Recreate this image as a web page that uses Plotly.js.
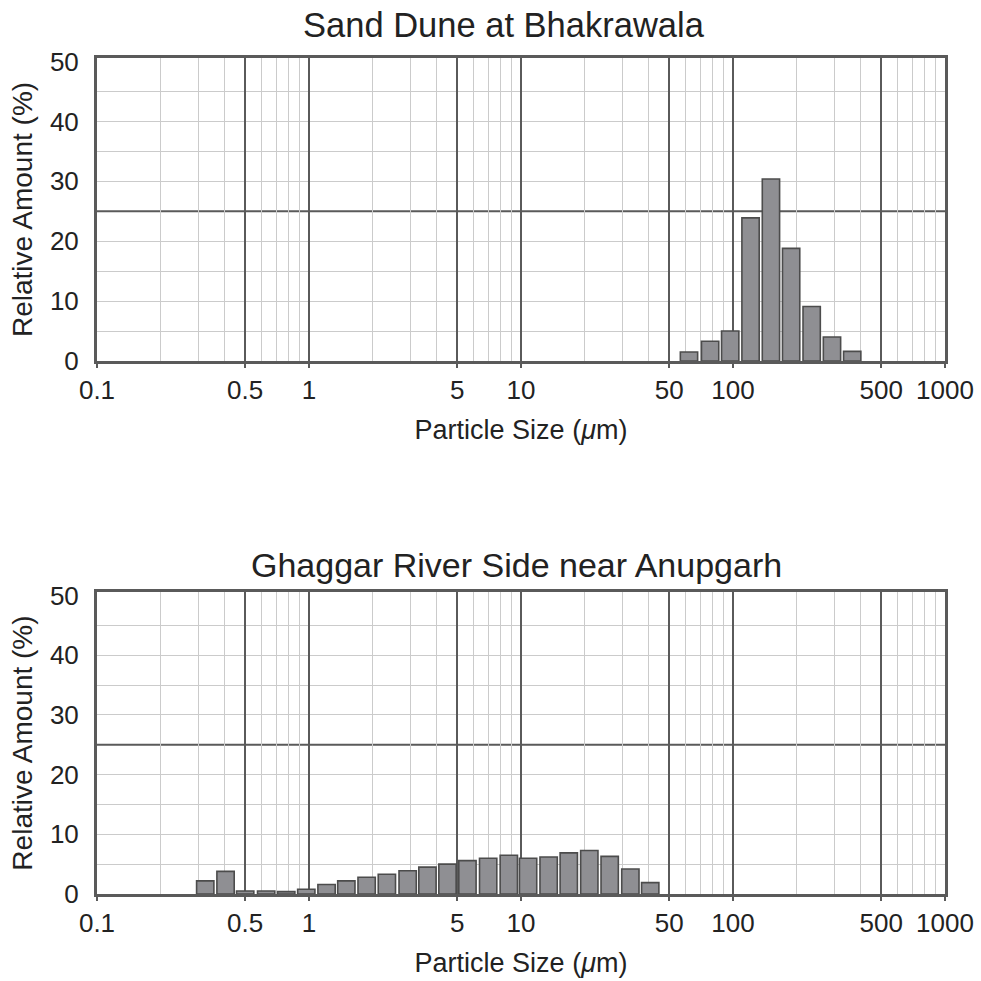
<!DOCTYPE html>
<html>
<head>
<meta charset="utf-8">
<script src="https://cdn.plot.ly/plotly-3.0.1.min.js"></script>
<style>html,body{margin:0;padding:0;background:#fff;}#chart{width:981px;height:981px;}</style>
</head>
<body>
<div id="chart"></div>
<script>
// ---- data ----
const topTitle = "Sand Dune at Bhakrawala";
const bottomTitle = "Ghaggar River Side near Anupgarh";
const topSizes = [62, 78, 97, 121, 151, 188, 235, 293, 365];
const topValues = [1.5, 3.3, 5.0, 23.9, 30.4, 18.8, 9.1, 4.0, 1.6];
const bottomSizes = [0.324, 0.404, 0.50, 0.628, 0.781, 0.971, 1.21, 1.50, 1.87, 2.33, 2.92, 3.62, 4.50, 5.59, 7.00, 8.76, 10.8, 13.5, 16.8, 21.0, 26.2, 32.8, 40.7];
const bottomValues = [2.2, 3.8, 0.5, 0.5, 0.4, 0.8, 1.6, 2.2, 2.8, 3.3, 3.9, 4.5, 5.0, 5.6, 6.0, 6.5, 6.0, 6.2, 6.9, 7.3, 6.3, 4.2, 1.9];
const xTickVals = [0.1, 0.5, 1, 5, 10, 50, 100, 500, 1000];
const xTickText = ["0.1", "0.5", "1", "5", "10", "50", "100", "500", "1000"];
const yTickVals = [0, 10, 20, 30, 40, 50];
const xTitle = "Particle Size (<i>\u03bc</i>m)";
const yTitle = "Relative Amount (%)";

// ---- style ----
const FONT = "Liberation Sans, Arial, sans-serif";
const TXT = "#222";
const HEAVY = "#5a5a5a";
const LIGHT = "#cbcbcb";
const binHalf = 1.0985; // bar half-width as a ratio on the log axis

function minorLogVals() {
  const out = [];
  for (let d = 0.1; d < 1000; d *= 10) {
    for (let m = 2; m <= 9; m++) {
      if (m === 5) continue;
      out.push(+(m * d).toPrecision(3));
    }
  }
  return out;
}
const xMinor = minorLogVals();
const yMinor = [5, 10, 15, 20, 30, 35, 40, 45];

function barTrace(sizes, values, xa, ya) {
  return {
    type: "bar",
    x: sizes,
    y: values,
    offset: sizes.map(s => s / binHalf - s),
    width: sizes.map(s => s * binHalf - s / binHalf),
    xaxis: xa, yaxis: ya,
    marker: {color: "#8f8f93", line: {color: "#4c4c4c", width: 1.6}},
    showlegend: false,
    hoverinfo: "x+y"
  };
}

function xAxis(anchor) {
  return {
    type: "log",
    range: [-1, 3],
    domain: [0, 1],
    anchor: anchor,
    tickmode: "array",
    tickvals: xTickVals,
    ticktext: xTickText,
    ticks: "outside", ticklen: 4, tickcolor: HEAVY, tickwidth: 1.5,
    tickfont: {family: FONT, size: 26, color: TXT},
    showgrid: true, gridcolor: HEAVY, gridwidth: 2,
    minor: {tickmode: "array", tickvals: xMinor, showgrid: true, gridcolor: LIGHT, gridwidth: 1, ticks: ""},
    showline: true, linecolor: HEAVY, linewidth: 3, mirror: true,
    zeroline: false,
    title: {text: xTitle, font: {family: FONT, size: 27, color: TXT}, standoff: 16},
    automargin: false
  };
}

function yAxis(anchor, dom) {
  return {
    range: [0, 50.6],
    domain: dom,
    anchor: anchor,
    tickmode: "array",
    tickvals: yTickVals,
    ticks: "outside", ticklen: 10, tickcolor: "rgba(0,0,0,0)",
    tickfont: {family: FONT, size: 26, color: TXT},
    showgrid: false,
    minor: {tickmode: "array", tickvals: yMinor, showgrid: true, gridcolor: LIGHT, gridwidth: 1, ticks: ""},
    showline: true, linecolor: HEAVY, linewidth: 3, mirror: true,
    zeroline: false,
    title: {text: yTitle, font: {family: FONT, size: 28, color: TXT}, standoff: 10},
    automargin: false
  };
}

const data = [
  barTrace(topSizes, topValues, "x", "y"),
  barTrace(bottomSizes, bottomValues, "x2", "y2")
];

const layout = {
  width: 981, height: 981,
  margin: {l: 97, r: 36, t: 58, b: 87},
  paper_bgcolor: "#fff", plot_bgcolor: "#fff",
  bargap: 0,
  xaxis: xAxis("y"),
  yaxis: yAxis("x", [0.6376, 1]),
  xaxis2: xAxis("y2"),
  yaxis2: yAxis("x2", [0, 0.3612]),
  shapes: [
    {type: "line", xref: "paper", yref: "y", x0: 0, x1: 1, y0: 25, y1: 25, line: {color: HEAVY, width: 2}, layer: "below"},
    {type: "line", xref: "paper", yref: "y2", x0: 0, x1: 1, y0: 25, y1: 25, line: {color: HEAVY, width: 2}, layer: "below"}
  ],
  annotations: [
    {text: topTitle, xref: "paper", yref: "paper", x: 0.48, y: 1.0395, yanchor: "middle", showarrow: false, font: {family: FONT, size: 34.5, color: TXT}},
    {text: bottomTitle, xref: "paper", yref: "paper", x: 0.495, y: 0.3935, yanchor: "middle", showarrow: false, font: {family: FONT, size: 34, color: TXT}}
  ],
  showlegend: false
};

Plotly.newPlot("chart", data, layout, {displayModeBar: false, staticPlot: true});
</script>
</body>
</html>
